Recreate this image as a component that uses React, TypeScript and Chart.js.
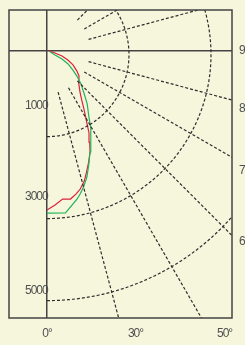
import React, { useEffect, useRef } from 'react';
import { Chart, registerables } from 'chart.js';

Chart.register(...registerables);

// ---- data (polar: angle from nadir in degrees, intensity) ----
const ringValues = [1000, 2000, 3000];
const ringCenterOffset = 50; // vertical offset of ring centre (units)
const spokeAngles = [15, 30, 45, 60, 75, 105, 120, 135];
const spokeStart = 525;
const spokeEnd = 6000;

const redAngles = [0, 3, 6, 9, 11.5, 13.5, 16, 18, 20.5, 23, 25, 27, 29, 32, 35, 38.5, 43.5, 51.5, 55.5, 61, 65.5, 70, 72.5, 80];
const redValues = [1945, 1887, 1821, 1834, 1785, 1737, 1654, 1560, 1452, 1344, 1233, 1129, 999, 855, 739, 646, 565, 499, 443, 363, 280, 195, 102, 30];

const greenAngles = [0, 6.5, 11.5, 13, 15, 17.5, 20, 23, 26, 29.5, 32.5, 37, 41, 45.5, 49.5, 53, 57.5, 60.5, 61, 68];
const greenValues = [1982, 1994, 1848, 1795, 1724, 1618, 1488, 1344, 1216, 1087, 949, 815, 687, 582, 480, 396, 305, 210, 112, 39];

const leftTickValues = [677, 1787, 2933];
const leftTickLabels = ['1000', '3000', '5000'];
const rightTickValues = [0, 715, 1460, 2330];
const rightTickLabels = ['9', '8', '7', '6'];
const bottomTickValues = [0, 1079, 2165];
const bottomTickLabels = ['0°', '30°', '50°'];

const xMin = -463;
const xMax = 2256;
const yMin = -494;
const yMax = 3262;

const BG = '#f5f6dc';
const FRAME = '#444444';
const GRID = '#2e2e2e';
const TEXT = '#505050';
const FONT = { family: "'Liberation Sans', Arial, sans-serif", size: 12 };

const rad = (d: number) => (d * Math.PI) / 180;
const polar = (angles: number[], values: number[]) =>
  angles.map((a, i) => ({ x: values[i] * Math.sin(rad(a)), y: values[i] * Math.cos(rad(a)) }));

const ringPoints = (r: number) => {
  const pts: { x: number; y: number }[] = [];
  for (let a = 0; a <= 180; a += 1) {
    pts.push({ x: r * Math.sin(rad(a)), y: ringCenterOffset + r * Math.cos(rad(a)) });
  }
  return pts;
};

const spokePoints = (a: number) => [
  { x: spokeStart * Math.sin(rad(a)), y: spokeStart * Math.cos(rad(a)) },
  { x: spokeEnd * Math.sin(rad(a)), y: spokeEnd * Math.cos(rad(a)) },
];

const bgPlugin = {
  id: 'bg',
  beforeDraw(chart: any) {
    const { ctx, width, height } = chart;
    ctx.save();
    ctx.fillStyle = BG;
    ctx.fillRect(0, 0, width, height);
    ctx.restore();
    try {
      (ctx as any).letterSpacing = '-1px';
    } catch (e) {
      /* ignore */
    }
  },
  afterDatasetsDraw(chart: any) {
    const { ctx, chartArea } = chart;
    ctx.save();
    ctx.strokeStyle = FRAME;
    ctx.lineWidth = 1.5;
    ctx.strokeRect(chartArea.left, chartArea.top, chartArea.right - chartArea.left, chartArea.bottom - chartArea.top);
    ctx.restore();
  },
};

const noPad = (s: any) => {
  s.paddingTop = 0;
  s.paddingBottom = 0;
  s.paddingLeft = 0;
  s.paddingRight = 0;
};

export default function App() {
  const ref = useRef<HTMLCanvasElement>(null);

  useEffect(() => {
    document.body.style.margin = '0';
    document.body.style.background = BG;
    const gridDs = (data: any[]) => ({
      data,
      showLine: true,
      borderColor: GRID,
      borderWidth: 1.2,
      borderDash: [3, 2],
      pointRadius: 0,
      tension: 0,
      clip: 0,
      xAxisID: 'x',
      yAxisID: 'y',
    });
    const datasets: any[] = [
      ...ringValues.map((r) => gridDs(ringPoints(r))),
      ...spokeAngles.map((a) => gridDs(spokePoints(a))),
      {
        data: polar(greenAngles, greenValues),
        showLine: true,
        borderColor: '#1fb45a',
        borderWidth: 1.2,
        pointRadius: 0,
        tension: 0,
        clip: 0,
      },
      {
        data: polar(redAngles, redValues),
        showLine: true,
        borderColor: '#e0203c',
        borderWidth: 1.2,
        pointRadius: 0,
        tension: 0,
        clip: 0,
      },
    ];

    const chart = new Chart(ref.current!, {
      type: 'scatter',
      data: { datasets },
      plugins: [bgPlugin],
      options: {
        animation: false,
        responsive: false,
        devicePixelRatio: 1,
        layout: { padding: { top: 10, left: 0, right: 0, bottom: 0 } },
        plugins: { legend: { display: false }, tooltip: { enabled: false } },
        scales: {
          x: {
            type: 'linear',
            position: 'bottom',
            min: xMin,
            max: xMax,
            afterBuildTicks: (s: any) => {
              s.ticks = bottomTickValues.map((v) => ({ value: v }));
            },
            afterFit: (s: any) => {
              s.height = 27;
              noPad(s);
            },
            ticks: {
              autoSkip: false,
              maxRotation: 0,
              padding: 8,
              color: TEXT,
              font: FONT,
              callback: (_v: any, i: number) => bottomTickLabels[i],
            },
            grid: {
              drawTicks: false,
              lineWidth: 1.5,
              color: (c: any) => (c.index === 0 ? FRAME : 'rgba(0,0,0,0)'),
            },
            border: { display: false },
          },
          y: {
            type: 'linear',
            position: 'left',
            reverse: true,
            min: yMin,
            max: yMax,
            afterBuildTicks: (s: any) => {
              s.ticks = leftTickValues.map((v) => ({ value: v }));
            },
            afterFit: (s: any) => {
              s.width = 9;
              noPad(s);
            },
            ticks: {
              autoSkip: false,
              mirror: true,
              crossAlign: 'far',
              padding: 12,
              color: TEXT,
              font: FONT,
              callback: (_v: any, i: number) => leftTickLabels[i],
            },
            grid: { display: false },
            border: { display: false },
          },
          y2: {
            type: 'linear',
            position: 'right',
            reverse: true,
            min: yMin,
            max: yMax,
            afterBuildTicks: (s: any) => {
              s.ticks = rightTickValues.map((v) => ({ value: v }));
            },
            afterFit: (s: any) => {
              s.width = 13;
              noPad(s);
            },
            ticks: {
              autoSkip: false,
              padding: 7,
              color: TEXT,
              font: FONT,
              callback: (_v: any, i: number) => rightTickLabels[i],
            },
            grid: {
              drawTicks: false,
              lineWidth: 1.5,
              color: (c: any) => (c.index === 0 ? FRAME : 'rgba(0,0,0,0)'),
            },
            border: { display: false },
          },
        },
      },
    } as any);
    return () => chart.destroy();
  }, []);

  return (
    <div style={{ width: 245, height: 345 }}>
      <canvas ref={ref} width={245} height={345} style={{ display: 'block' }} />
    </div>
  );
}
